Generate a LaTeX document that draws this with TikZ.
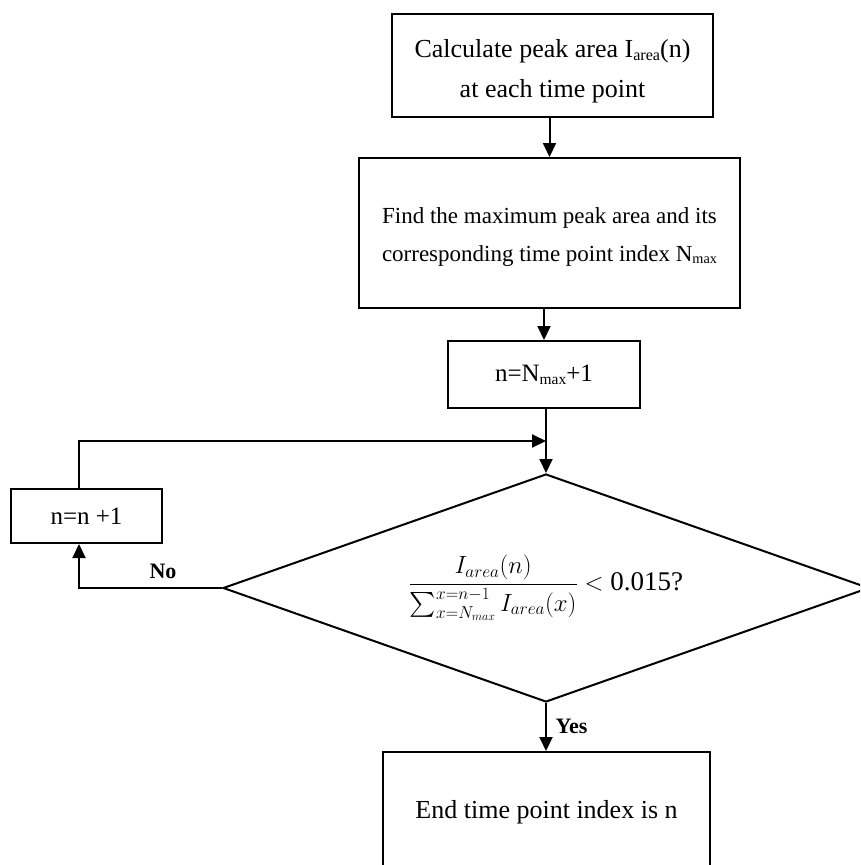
\documentclass[tikz,border=0pt]{standalone}
\usepackage{amsmath}
\usepackage{graphicx}
\usepackage{fontspec}
\setmainfont{Liberation Serif}
\usetikzlibrary{shapes.geometric,arrows.meta}
\newcommand{\subtx}[1]{\raisebox{-0.28ex}{\scalebox{0.62}{#1}}}
\begin{document}
\begin{tikzpicture}[x=1pt,y=-1pt,
  box/.style={draw,line width=2pt,align=center,inner sep=0pt},
  arr/.style={line width=2pt,-{Triangle[length=14pt,width=13pt]}},
  lbl/.style={font=\bfseries\fontsize{22}{22}\selectfont,anchor=base,inner sep=0pt}]
\useasboundingbox (0,0) rectangle (860,865);
\clip (0,0) rectangle (860,865);
\node[box,minimum width=321pt,minimum height=103pt,font=\fontsize{26}{40}\selectfont] (calc) at (552.5,65.5) {\rule{0pt}{29pt}Calculate peak area I\subtx{area}(n)\\at each time point};
\node[box,minimum width=381pt,minimum height=150pt,font=\fontsize{23}{38}\selectfont] (box2) at (549.5,233) {\rule{0pt}{23pt}Find the maximum peak area and its\\corresponding time point index N\subtx{max}};
\node[box,minimum width=192pt,minimum height=67pt,font=\fontsize{25}{30}\selectfont] (box3) at (544,374.5) {n=N\subtx{max}+1};
\node[draw,line width=2pt,diamond,aspect=2.83,inner sep=0pt,minimum width=646pt,minimum height=228pt] (dia) at (546,588) {\fontsize{23}{26}\selectfont$\dfrac{I_{area}(n)}{\sum_{x=N_{max}}^{x=n-1} I_{area}(x)}$\fontsize{27}{30}\selectfont$\;<\;$\fontsize{27}{30}\selectfont 0.015?};
\node[box,minimum width=151pt,minimum height=54pt,font=\fontsize{25}{30}\selectfont] (inc) at (86.5,516) {n=n +1};
\node[box,minimum width=327pt,minimum height=120pt,font=\fontsize{26}{30}\selectfont] (end) at (546.5,812) {End time point index is n};
\coordinate (lx) at (79,0);
\coordinate (jy) at (0,441);
\draw[arr] (calc.south -| box2.north) -- (box2.north);
\draw[arr] (box2.south -| box3.north) -- (box3.north);
\draw[arr] (box3.south -| dia.north) -- (dia.north);
\draw[arr] (dia.south) -- (dia.south |- end.north);
\draw[arr] (dia.west) -- (dia.west -| lx) -- (inc.south -| lx);
\draw[arr] (inc.north -| lx) -- (lx |- jy) -- (dia.north |- jy);
\node[lbl] (no) at (163,578) {No};
\node[lbl] (yes) at (571.5,733) {Yes};
\end{tikzpicture}
\end{document}
